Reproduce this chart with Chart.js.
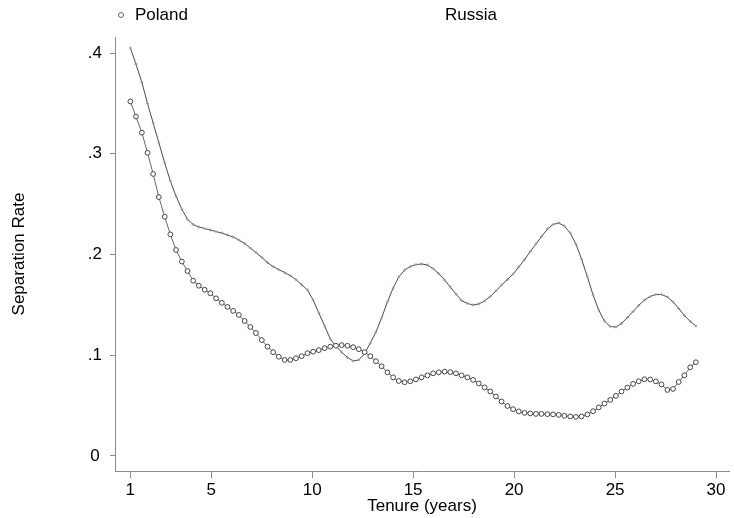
<!DOCTYPE html>
<html>
<head>
<meta charset="utf-8">
<script src="https://cdn.jsdelivr.net/npm/chart.js@4"></script>
<style>
  body { margin: 0; background: #fff; }
  #wrap { position: relative; width: 734px; height: 518px; font-family: "Liberation Sans", Arial, sans-serif; }
  .leg { position: absolute; top: 5px; font-size: 17px; color: #000; line-height: 20px; }
  .mark { position: absolute; left: 118px; top: 12px; width: 4px; height: 4px; border: 1px solid #666; border-radius: 50%; }
</style>
</head>
<body>
<div id="wrap">
  <canvas id="chart" width="734" height="518"></canvas>
  <span class="mark"></span>
  <span class="leg" style="left:135px">Poland</span>
  <span class="leg" style="left:445px">Russia</span>
</div>
<script>
const tenure = [1.00, 1.28, 1.57, 1.85, 2.13, 2.41, 2.70, 2.98, 3.26, 3.55,
    3.83, 4.11, 4.39, 4.68, 4.96, 5.24, 5.53, 5.81, 6.09, 6.37,
    6.66, 6.94, 7.22, 7.51, 7.79, 8.07, 8.35, 8.64, 8.92, 9.20,
    9.48, 9.77, 10.05, 10.33, 10.62, 10.90, 11.18, 11.46, 11.75, 12.03,
    12.31, 12.60, 12.88, 13.16, 13.44, 13.73, 14.01, 14.29, 14.58, 14.86,
    15.14, 15.42, 15.71, 15.99, 16.27, 16.56, 16.84, 17.12, 17.40, 17.69,
    17.97, 18.25, 18.54, 18.82, 19.10, 19.38, 19.67, 19.95, 20.23, 20.52,
    20.80, 21.08, 21.36, 21.65, 21.93, 22.21, 22.49, 22.78, 23.06, 23.34,
    23.63, 23.91, 24.19, 24.47, 24.76, 25.04, 25.32, 25.61, 25.89, 26.17,
    26.45, 26.74, 27.02, 27.30, 27.59, 27.87, 28.15, 28.43, 28.72, 29.00];

const poland = [0.352, 0.337, 0.321, 0.301, 0.280, 0.257, 0.2375, 0.220, 0.2045, 0.193,
    0.1836, 0.174, 0.169, 0.165, 0.1615, 0.1565, 0.152, 0.148, 0.144, 0.140,
    0.134, 0.128, 0.122, 0.115, 0.1085, 0.103, 0.0985, 0.0953, 0.0953, 0.097,
    0.099, 0.102, 0.1035, 0.105, 0.107, 0.1085, 0.1094, 0.110, 0.1094, 0.108,
    0.106, 0.103, 0.099, 0.094, 0.089, 0.083, 0.078, 0.0744, 0.0731, 0.0741,
    0.076, 0.078, 0.080, 0.082, 0.083, 0.0837, 0.0832, 0.082, 0.080, 0.078,
    0.0755, 0.072, 0.068, 0.064, 0.059, 0.054, 0.0496, 0.0464, 0.0442, 0.0427,
    0.0422, 0.0417, 0.0417, 0.0414, 0.0412, 0.0407, 0.0399, 0.0392, 0.0387, 0.0392,
    0.0412, 0.0444, 0.0481, 0.052, 0.0556, 0.0596, 0.064, 0.0678, 0.0715, 0.0741,
    0.0761, 0.0759, 0.074, 0.071, 0.0655, 0.0665, 0.0734, 0.080, 0.088, 0.093];

const russia = [0.405, 0.389, 0.371, 0.350, 0.3305, 0.311, 0.291, 0.273, 0.258, 0.245,
    0.235, 0.2298, 0.2273, 0.2258, 0.2243, 0.2228, 0.2213, 0.2193, 0.2174, 0.2144,
    0.2109, 0.2064, 0.2020, 0.197, 0.192, 0.188, 0.185, 0.182, 0.179, 0.175,
    0.170, 0.1648, 0.1548, 0.142, 0.129, 0.116, 0.109, 0.103, 0.0978, 0.0943,
    0.0953, 0.1017, 0.112, 0.123, 0.137, 0.153, 0.1667, 0.1777, 0.1846, 0.188,
    0.190, 0.1906, 0.1896, 0.186, 0.181, 0.1747, 0.1677, 0.1608, 0.1543, 0.1514,
    0.1499, 0.1509, 0.1538, 0.1583, 0.1638, 0.1697, 0.1752, 0.1806, 0.1876, 0.195,
    0.203, 0.2104, 0.2179, 0.2253, 0.2298, 0.2313, 0.2283, 0.2213, 0.2104, 0.1955,
    0.1777, 0.1598, 0.1449, 0.134, 0.1285, 0.128, 0.1315, 0.1375, 0.1434, 0.1494,
    0.1548, 0.1583, 0.1603, 0.1603, 0.1578, 0.1529, 0.1464, 0.1395, 0.1335, 0.129];

const xTicks = [1, 5, 10, 15, 20, 25, 30];
const yTicks = [0, 0.1, 0.2, 0.3, 0.4];

const font = { family: '"Liberation Sans", Arial, sans-serif', size: 17 };
const axisGrey = '#8a8a8a';

function points(values) {
    return values.map((v, i) => ({ x: tenure[i], y: v }));
}

new Chart(document.getElementById('chart'), {
    type: 'line',
    data: {
        datasets: [{
            label: 'Poland',
            data: points(poland),
            borderColor: '#666',
            borderWidth: 1,
            pointStyle: 'circle',
            pointRadius: 2.4,
            pointBorderWidth: 1,
            pointBorderColor: '#444',
            pointBackgroundColor: '#fff',
            tension: 0
        },
        {
            label: 'Russia',
            data: points(russia),
            borderColor: '#4a4a4a',
            borderWidth: 1,
            pointStyle: 'cross',
            pointRadius: 1.5,
            pointBorderWidth: 1,
            pointBorderColor: '#999',
            tension: 0
        }]
    },
    options: {
        responsive: false,
        animation: false,
        layout: { padding: { top: 37, right: 0, left: 0, bottom: 0 } },
        plugins: { legend: { display: false }, tooltip: { enabled: false } },
        scales: {
            x: {
                type: 'linear',
                min: 0.24,
                max: 30.64,
                afterFit: scale => { scale.height = 47; },
                afterBuildTicks: scale => { scale.ticks = xTicks.map(v => ({ value: v })); },
                border: { display: true, color: axisGrey, width: 1 },
                grid: { drawOnChartArea: false, drawTicks: true, tickLength: 7, color: axisGrey },
                ticks: { font: font, color: '#000', padding: 2, maxRotation: 0, autoSkip: false },
                title: { display: true, text: 'Tenure (years)', font: font, color: '#000', padding: { top: 0, bottom: 1 } }
            },
            y: {
                min: -0.015,
                max: 0.416,
                afterFit: scale => { scale.width = 115; },
                afterBuildTicks: scale => { scale.ticks = yTicks.map(v => ({ value: v })); },
                border: { display: true, color: axisGrey, width: 1 },
                grid: { drawOnChartArea: false, drawTicks: true, tickLength: 5, color: axisGrey },
                ticks: {
                    font: font,
                    color: '#000',
                    padding: 8,
                    crossAlign: 'center',
                    callback: v => v === 0 ? '0' : v.toFixed(1).replace(/^0/, '')
                },
                title: { display: true, text: 'Separation Rate', font: font, color: '#000', padding: { top: 9, bottom: 0 } }
            }
        }
    }
});
</script>
</body>
</html>
